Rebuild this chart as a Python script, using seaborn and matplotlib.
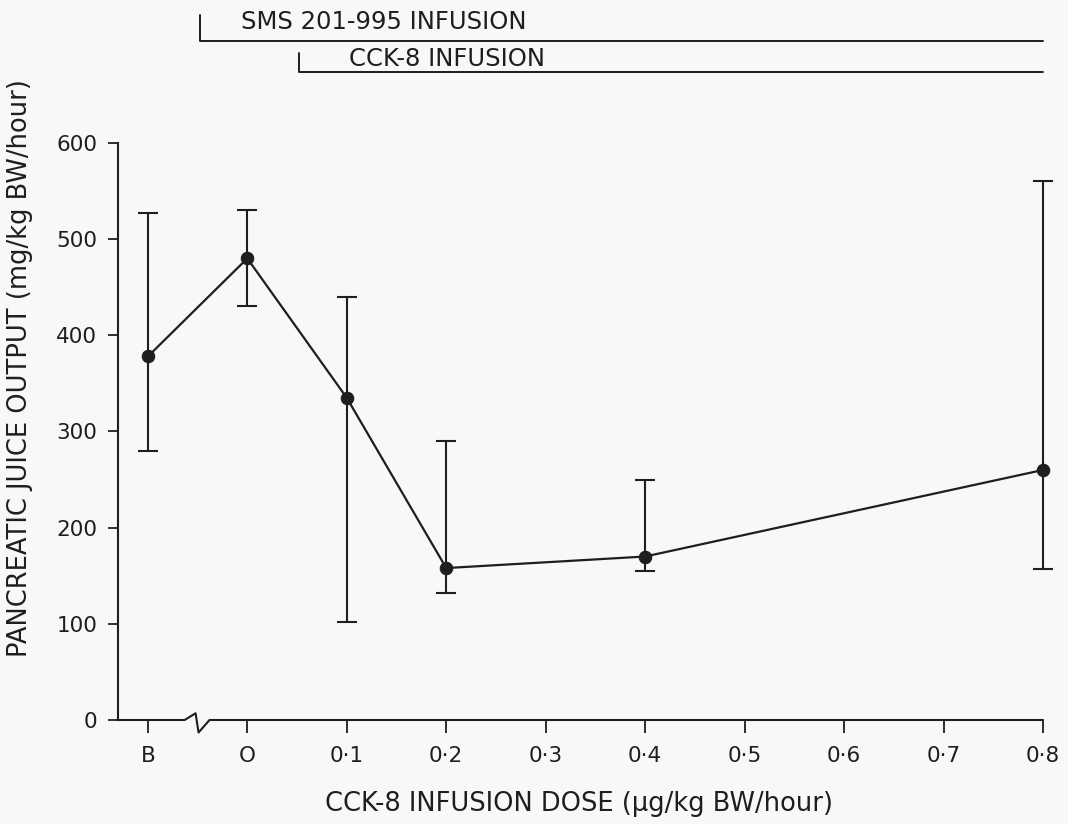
import matplotlib
matplotlib.use("Agg")
import matplotlib.pyplot as plt
import seaborn as sns
import numpy as np
import pandas as pd

# ---- data ----
dose_labels = ["B", "O", "0·1", "0·2", "0·4", "0·8"]
dose_pos = [-1, 0, 1, 2, 4, 8]          # in units of 0.1 µg/kg BW/hour; B placed before break
juice_mean = [378, 480, 335, 158, 170, 260]
err_low = [280, 430, 102, 132, 155, 157]
err_high = [527, 530, 440, 290, 250, 560]

tick_pos = [-1, 0, 1, 2, 3, 4, 5, 6, 7, 8]
tick_labels = ["B", "O", "0·1", "0·2", "0·3", "0·4", "0·5", "0·6", "0·7", "0·8"]
y_ticks = [0, 100, 200, 300, 400, 500, 600]

bg = "#f8f8f8"
ink = "#1e1e1e"

sns.set_theme(style="white")
plt.rcParams["font.family"] = ["DejaVu Sans"]

fig = plt.figure(figsize=(10.68, 8.24), dpi=100, facecolor=bg)
ax = fig.add_axes([118/1068, 1-720/824, (1043-118)/1068, (720-143)/824])
ax.set_facecolor(bg)

df = pd.DataFrame({"x": dose_pos, "y": juice_mean})
sns.lineplot(data=df, x="x", y="y", ax=ax, color=ink, linewidth=1.6,
             marker="o", markersize=9, markeredgecolor=ink, markerfacecolor=ink,
             clip_on=False, zorder=5)

lo = np.array(juice_mean) - np.array(err_low)
hi = np.array(err_high) - np.array(juice_mean)
ax.errorbar(dose_pos, juice_mean, yerr=[lo, hi], fmt="none", ecolor=ink,
            elinewidth=1.5, capsize=7, capthick=1.5, clip_on=False, zorder=4)

ax.set_xlim(-1.3, 8.0)
ax.set_ylim(0, 600)

ax.set_xticks(tick_pos)
ax.set_xticklabels(tick_labels)
ax.set_yticks(y_ticks)
ax.set_yticklabels([str(v) for v in y_ticks])

for s in ["top", "right", "bottom"]:
    ax.spines[s].set_visible(False)
ax.spines["left"].set_color(ink)
ax.spines["left"].set_linewidth(1.5)

ax.tick_params(axis="both", which="both", direction="out", width=1.3,
               color=ink, labelcolor=ink, labelsize=15.5,
               bottom=True, left=True)
ax.tick_params(axis="y", length=7, pad=8)
ax.tick_params(axis="x", length=9.5, pad=9)

# x axis line with break between B and 0
ax.plot([-1.3, -0.63, -0.52, -0.49, -0.38, 8.0], [0, 0, 7, -13, 0, 0],
        color=ink, lw=1.5, clip_on=False, zorder=3)

ax.set_xlabel("CCK-8 INFUSION DOSE (μg/kg BW/hour)", fontsize=18.5, color=ink)
ax.xaxis.set_label_coords((579-118)/925, (720-811)/577)
ax.xaxis.label.set_va("baseline")
ax.set_ylabel("PANCREATIC JUICE OUTPUT (mg/kg BW/hour)", fontsize=18.5, color=ink)
ax.yaxis.set_label_coords((20-118)/925, (720-368)/577)
ax.yaxis.label.set_va("center")

# infusion brackets above the plot
ax.plot([-0.48, -0.48, 8.0], [733, 706, 706], color=ink, lw=1.4, clip_on=False)
ax.text(-0.06, 719, "SMS 201-995 INFUSION", fontsize=17.5, color=ink, va="baseline", ha="left")
ax.plot([0.52, 0.52, 8.0], [694, 674, 674], color=ink, lw=1.4, clip_on=False)
ax.text(1.02, 680, "CCK-8 INFUSION", fontsize=17.5, color=ink, va="baseline", ha="left")

fig.savefig("out.png", dpi=100, facecolor=bg)
